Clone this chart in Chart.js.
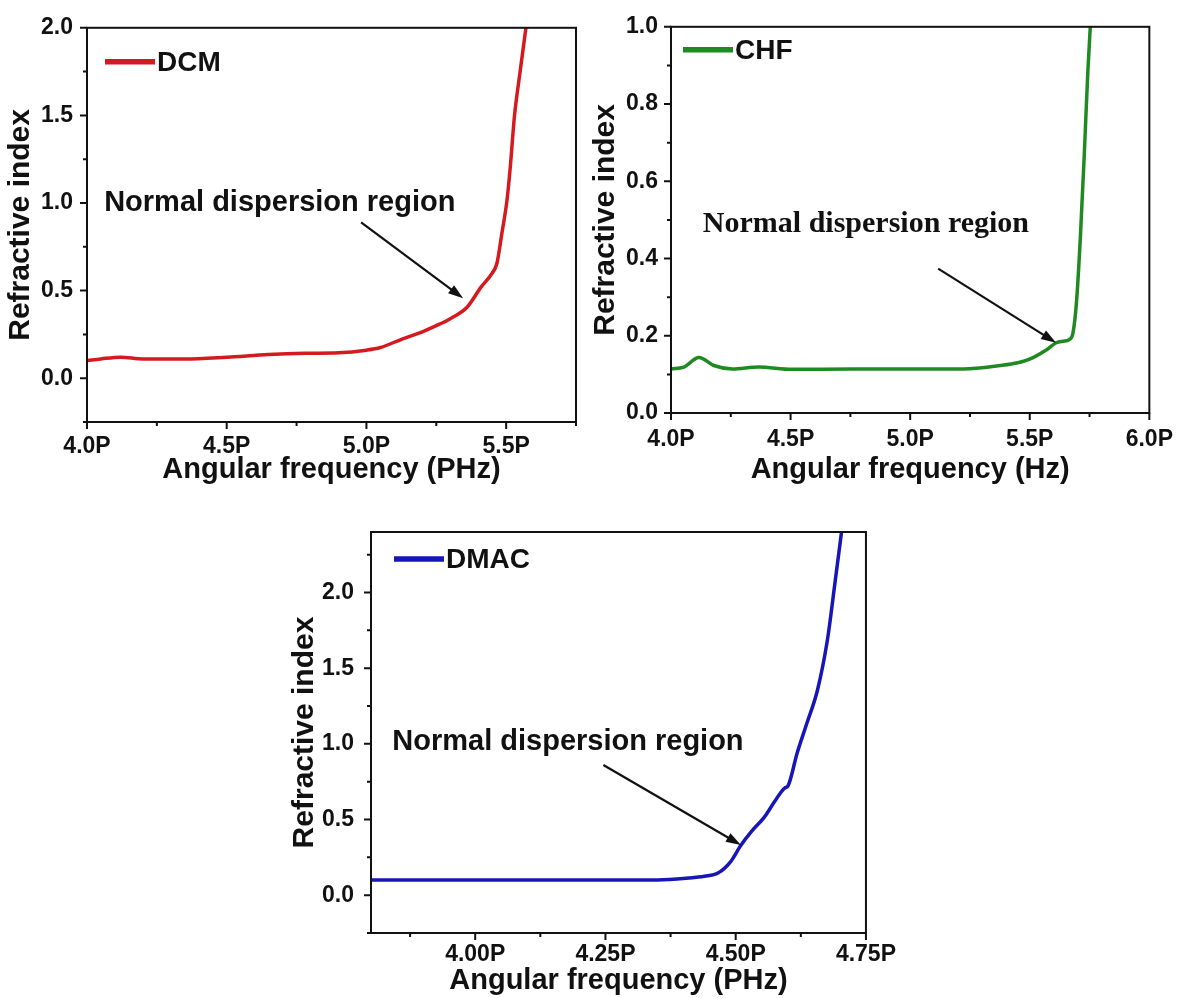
<!DOCTYPE html>
<html>
<head>
<meta charset="utf-8">
<script src="https://cdn.jsdelivr.net/npm/chart.js@4.4.1/dist/chart.umd.min.js"></script>
<style>
  html, body { margin: 0; padding: 0; background: #fff; overflow: hidden; }
  body { width: 1186px; height: 998px; position: relative; }
  canvas { position: absolute; }
</style>
</head>
<body>
<canvas id="dcmChart" width="590" height="490" style="left:0px;top:0px"></canvas>
<canvas id="chfChart" width="601" height="490" style="left:585px;top:0px"></canvas>
<canvas id="dmacChart" width="620" height="498" style="left:284px;top:500px"></canvas>
<script>
// DCM (red)
const dcmFreq  = [4.00, 4.05, 4.12, 4.20, 4.35, 4.50, 4.65, 4.78, 4.90, 5.00, 5.05, 5.13, 5.20, 5.25, 5.30, 5.36, 5.41, 5.45, 5.467, 5.485, 5.503, 5.514, 5.53, 5.55, 5.575];
const dcmIndex = [0.10, 0.11, 0.12, 0.11, 0.11, 0.12, 0.135, 0.142, 0.145, 0.16, 0.175, 0.225, 0.265, 0.30, 0.34, 0.405, 0.52, 0.60, 0.656, 0.83, 1.015, 1.19, 1.5, 1.75, 2.05];
const dcmXTicks = [4.0, 4.5, 5.0, 5.5];
const dcmXMinor = [4.25, 4.75, 5.25, 5.75];
const dcmYTicks = [0.0, 0.5, 1.0, 1.5, 2.0];
const dcmYMinor = [-0.25, 0.25, 0.75, 1.25, 1.75];

// CHF (green)
const chfFreq  = [4.00, 4.054, 4.117, 4.179, 4.257, 4.366, 4.506, 4.755, 5.0, 5.222, 5.378, 5.45, 5.502, 5.564, 5.611, 5.64, 5.665, 5.681, 5.696, 5.712, 5.728, 5.743, 5.755];
const chfIndex = [0.114, 0.119, 0.144, 0.123, 0.114, 0.119, 0.113, 0.114, 0.114, 0.114, 0.123, 0.13, 0.14, 0.161, 0.182, 0.186, 0.19, 0.208, 0.292, 0.46, 0.67, 0.886, 1.02];
const chfXTicks = [4.0, 4.5, 5.0, 5.5, 6.0];
const chfXMinor = [4.25, 4.75, 5.25, 5.75];
const chfYTicks = [0.0, 0.2, 0.4, 0.6, 0.8, 1.0];
const chfYMinor = [0.1, 0.3, 0.5, 0.7, 0.9];

// DMAC (blue)
const dmacFreq  = [3.80, 4.00, 4.20, 4.35, 4.41, 4.44, 4.466, 4.49, 4.51, 4.53, 4.555, 4.575, 4.594, 4.60, 4.618, 4.635, 4.657, 4.676, 4.69, 4.705];
const dmacIndex = [0.10, 0.10, 0.10, 0.10, 0.113, 0.125, 0.146, 0.22, 0.33, 0.42, 0.516, 0.62, 0.708, 0.72, 0.94, 1.12, 1.356, 1.686, 2.05, 2.45];
const dmacXTicks = [4.00, 4.25, 4.50, 4.75];
const dmacXMinor = [3.875, 4.125, 4.375, 4.625];
const dmacYTicks = [0.0, 0.5, 1.0, 1.5, 2.0];
const dmacYMinor = [-0.25, 0.25, 0.75, 1.25, 1.75, 2.25];

const annotationText = 'Normal dispersion region';
const INK = '#111';
const SANS = '"Liberation Sans", Arial, sans-serif';
const SERIF = '"Liberation Serif", "Times New Roman", serif';

// box, tick marks, legend and the arrow note
const framePlugin = {
  id: 'frame',
  afterDraw(chart, args, o) {
    const ctx = chart.ctx;
    const a = chart.chartArea;
    const xs = chart.scales.x, ys = chart.scales.y;
    ctx.save();
    ctx.strokeStyle = INK;
    ctx.lineWidth = 2;
    ctx.strokeRect(a.left, a.top, a.right - a.left, a.bottom - a.top);

    ctx.beginPath();
    o.xMajor.forEach(v => { const p = xs.getPixelForValue(v); ctx.moveTo(p, a.bottom); ctx.lineTo(p, a.bottom + 7); });
    o.xMinor.forEach(v => { const p = xs.getPixelForValue(v); ctx.moveTo(p, a.bottom); ctx.lineTo(p, a.bottom + 4); });
    o.yMajor.forEach(v => { const p = ys.getPixelForValue(v); ctx.moveTo(a.left, p); ctx.lineTo(a.left - 7, p); });
    o.yMinor.forEach(v => { const p = ys.getPixelForValue(v); ctx.moveTo(a.left, p); ctx.lineTo(a.left - 4, p); });
    ctx.stroke();

    // legend
    const ds = chart.data.datasets[0];
    const lx = a.left + o.legend.dx, ly = a.top + o.legend.dy;
    ctx.strokeStyle = ds.borderColor;
    ctx.lineWidth = 5.5;
    ctx.beginPath();
    ctx.moveTo(lx, ly);
    ctx.lineTo(lx + 50, ly);
    ctx.stroke();
    ctx.fillStyle = INK;
    ctx.font = 'bold 28px ' + SANS;
    ctx.textAlign = 'left';
    ctx.textBaseline = 'middle';
    ctx.fillText(ds.label, lx + 52, ly + 1);

    // note + arrow
    const n = o.note;
    ctx.font = n.font;
    ctx.textAlign = 'center';
    ctx.fillText(annotationText, xs.getPixelForValue(n.tx), ys.getPixelForValue(n.ty));
    const x1 = xs.getPixelForValue(n.from[0]), y1 = ys.getPixelForValue(n.from[1]);
    const x2 = xs.getPixelForValue(n.to[0]), y2 = ys.getPixelForValue(n.to[1]);
    const ang = Math.atan2(y2 - y1, x2 - x1);
    const head = 15;
    ctx.strokeStyle = INK;
    ctx.lineWidth = 2.2;
    ctx.beginPath();
    ctx.moveTo(x1, y1);
    ctx.lineTo(x2 - head * 0.8 * Math.cos(ang), y2 - head * 0.8 * Math.sin(ang));
    ctx.stroke();
    ctx.beginPath();
    ctx.moveTo(x2, y2);
    ctx.lineTo(x2 - head * Math.cos(ang) + 5 * Math.sin(ang), y2 - head * Math.sin(ang) - 5 * Math.cos(ang));
    ctx.lineTo(x2 - head * Math.cos(ang) - 5 * Math.sin(ang), y2 - head * Math.sin(ang) + 5 * Math.cos(ang));
    ctx.closePath();
    ctx.fill();
    ctx.restore();
  }
};

function buildPanel(id, p) {
  const tickFont = { family: SANS, size: p.tickSize, weight: 'bold' };
  return new Chart(document.getElementById(id), {
    type: 'line',
    data: {
      datasets: [{
        label: p.label,
        data: p.freq.map((f, i) => ({ x: f, y: p.index[i] })),
        borderColor: p.color,
        backgroundColor: p.color,
        borderWidth: 3.5,
        pointRadius: 0,
        cubicInterpolationMode: 'monotone',
        clip: 0
      }]
    },
    options: {
      responsive: false,
      animation: false,
      devicePixelRatio: 1,
      layout: { padding: p.padding },
      plugins: {
        legend: { display: false },
        tooltip: { enabled: false },
        frame: {
          xMajor: p.xTicks, xMinor: p.xMinor, yMajor: p.yTicks, yMinor: p.yMinor,
          legend: p.legend, note: p.note
        }
      },
      scales: {
        x: {
          type: 'linear', min: p.xMin, max: p.xMax,
          afterBuildTicks: s => { s.ticks = p.xTicks.map(v => ({ value: v })); },
          afterFit: s => { s.height = p.xAxisHeight; },
          grid: { display: false, drawTicks: false },
          border: { display: false },
          ticks: {
            autoSkip: false, maxRotation: 0, padding: p.xPad, color: INK, font: tickFont,
            callback: v => v.toFixed(p.xDigits) + 'P'
          },
          title: {
            display: true, text: p.xTitle, color: INK,
            padding: p.xTitlePad,
            font: { family: SANS, size: 29, weight: 'bold', lineHeight: 1.2 }
          }
        },
        y: {
          min: p.yMin, max: p.yMax,
          afterBuildTicks: s => { s.ticks = p.yTicks.map(v => ({ value: v })); },
          afterFit: s => { s.width = p.yAxisWidth; },
          grid: { display: false, drawTicks: false },
          border: { display: false },
          ticks: {
            autoSkip: false, padding: p.yPad, color: INK, font: tickFont,
            callback: v => v.toFixed(1)
          },
          title: {
            display: true, text: 'Refractive index', color: INK,
            padding: 3,
            font: { family: SANS, size: 30, weight: 'bold', lineHeight: 1.2 }
          }
        }
      }
    },
    plugins: [framePlugin]
  });
}

document.addEventListener('DOMContentLoaded', function() {
  buildPanel('dcmChart', {
    label: 'DCM', color: '#d51a1f', freq: dcmFreq, index: dcmIndex,
    xMin: 4.0, xMax: 5.75, yMin: -0.25, yMax: 2.0,
    xTicks: dcmXTicks, xMinor: dcmXMinor, yTicks: dcmYTicks, yMinor: dcmYMinor,
    xDigits: 1, tickSize: 23, xPad: 11, yPad: 14,
    padding: { left: 0, top: 27, right: 14, bottom: 0 },
    yAxisWidth: 87, xAxisHeight: 68, xTitlePad: 3,
    xTitle: 'Angular frequency (PHz)',
    legend: { dx: 18, dy: 34 },
    note: { tx: 4.69, ty: 1.0, from: [4.981, 0.889], to: [5.346, 0.456], font: 'bold 29px ' + SANS }
  });

  buildPanel('chfChart', {
    label: 'CHF', color: '#1f8a22', freq: chfFreq, index: chfIndex,
    xMin: 4.0, xMax: 6.0, yMin: 0.0, yMax: 1.0,
    xTicks: chfXTicks, xMinor: chfXMinor, yTicks: chfYTicks, yMinor: chfYMinor,
    xDigits: 1, tickSize: 23, xPad: 13, yPad: 13,
    padding: { left: 0, top: 23, right: 28, bottom: 0 },
    yAxisWidth: 86, xAxisHeight: 77, xTitlePad: 3,
    xTitle: 'Angular frequency (Hz)',
    legend: { dx: 12, dy: 23 },
    note: { tx: 4.815, ty: 0.49, from: [5.117, 0.374], to: [5.61, 0.182], font: 'bold 30px ' + SERIF }
  });

  buildPanel('dmacChart', {
    label: 'DMAC', color: '#1616b8', freq: dmacFreq, index: dmacIndex,
    xMin: 3.8, xMax: 4.75, yMin: -0.25, yMax: 2.4,
    xTicks: dmacXTicks, xMinor: dmacXMinor, yTicks: dmacYTicks, yMinor: dmacYMinor,
    xDigits: 2, tickSize: 23, xPad: 8, yPad: 17,
    padding: { left: 0, top: 32, right: 34, bottom: 0 },
    yAxisWidth: 87, xAxisHeight: 65, xTitlePad: 0,
    xTitle: 'Angular frequency (PHz)',
    legend: { dx: 23, dy: 27 },
    note: { tx: 4.178, ty: 1.012, from: [4.246, 0.86], to: [4.51, 0.331], font: 'bold 29px ' + SANS }
  });
});
</script>
</body>
</html>
